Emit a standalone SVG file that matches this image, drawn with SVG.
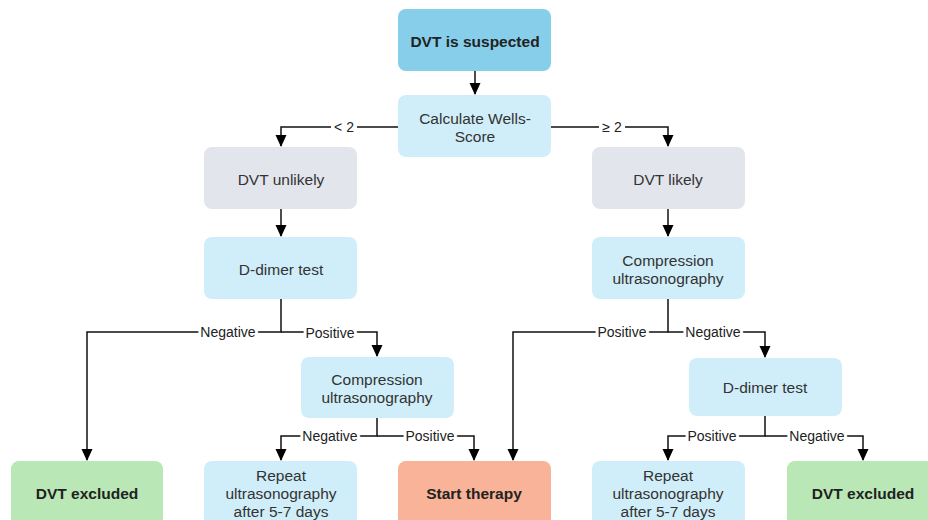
<svg xmlns="http://www.w3.org/2000/svg" width="928" height="520" viewBox="0 0 928 520">
<defs>
<marker id="ah" markerWidth="12" markerHeight="12" refX="11" refY="6" orient="auto" markerUnits="userSpaceOnUse" viewBox="0 0 12 12">
<path d="M0,0.5 L12,6 L0,11.5 Z" fill="#000"/>
</marker>
</defs>
<style>
.n{stroke:none}
.blue{fill:#87CEEB}
.lb{fill:#D0EEF9}
.gr{fill:#E3E5EC}
.gn{fill:#B9E8B6}
.or{fill:#F8B398}
.t{font-family:"Liberation Sans",Arial,sans-serif;font-size:15.5px;fill:#333;text-anchor:middle}
.b{font-weight:bold;font-size:15.5px;fill:#222}
.c{fill:none;stroke:#111;stroke-width:1.5}
.l{font-family:"Liberation Sans",Arial,sans-serif;font-size:14px;fill:#222;text-anchor:middle;stroke:#fff;stroke-width:6px;paint-order:stroke;stroke-linejoin:round}
.bg{fill:#fff}
</style>
<rect width="928" height="520" fill="#fff"/>
<g id="connectors">
<path class="c" d="M475,71 V94" marker-end="url(#ah)"/>
<path class="c" d="M398,127 H281 V146" marker-end="url(#ah)"/>
<path class="c" d="M551,127 H668 V146" marker-end="url(#ah)"/>
<path class="c" d="M281,209 V236" marker-end="url(#ah)"/>
<path class="c" d="M668,209 V236" marker-end="url(#ah)"/>
<path class="c" d="M281,299 V332 H87 V460" marker-end="url(#ah)"/>
<path class="c" d="M281,332 H377 V356" marker-end="url(#ah)"/>
<path class="c" d="M377,418 V436 H281 V460" marker-end="url(#ah)"/>
<path class="c" d="M377,436 H474 V460" marker-end="url(#ah)"/>
<path class="c" d="M668,299 V332 H513 V460" marker-end="url(#ah)"/>
<path class="c" d="M668,332 H765 V357" marker-end="url(#ah)"/>
<path class="c" d="M765,416 V436 H668 V460" marker-end="url(#ah)"/>
<path class="c" d="M765,436 H863 V460" marker-end="url(#ah)"/>
<rect class="bg" x="331" y="120" width="26" height="14"/>
<rect class="bg" x="599" y="120" width="26" height="14"/>
<text class="l" x="344" y="132">&lt; 2</text>
<text class="l" x="612" y="132">≥ 2</text>
<text class="l" x="228" y="337">Negative</text>
<text class="l" x="330" y="338">Positive</text>
<text class="l" x="330" y="441">Negative</text>
<text class="l" x="430" y="441">Positive</text>
<text class="l" x="622" y="337">Positive</text>
<text class="l" x="713" y="337">Negative</text>
<text class="l" x="712" y="441">Positive</text>
<text class="l" x="817" y="441">Negative</text>
</g>
<g id="n1"><rect class="n blue" x="398" y="9" width="153" height="62" rx="8"/><text class="t b" x="475" y="47">DVT is suspected</text></g>
<g id="n2"><rect class="n lb" x="398" y="95" width="153" height="62" rx="8"/><text class="t" x="475" y="124">Calculate Wells-</text><text class="t" x="475" y="142">Score</text></g>
<g id="n3"><rect class="n gr" x="204" y="147" width="153" height="62" rx="8"/><text class="t" x="281" y="185">DVT unlikely</text></g>
<g id="n4"><rect class="n gr" x="592" y="147" width="153" height="62" rx="8"/><text class="t" x="668" y="185">DVT likely</text></g>
<g id="n5"><rect class="n lb" x="204" y="237" width="153" height="62" rx="8"/><text class="t" x="281" y="275">D-dimer test</text></g>
<g id="n6"><rect class="n lb" x="592" y="237" width="153" height="62" rx="8"/><text class="t" x="668" y="266">Compression</text><text class="t" x="668" y="284">ultrasonography</text></g>
<g id="n7"><rect class="n lb" x="301" y="357" width="153" height="61" rx="8"/><text class="t" x="377" y="385">Compression</text><text class="t" x="377" y="403">ultrasonography</text></g>
<g id="n8"><rect class="n lb" x="689" y="358" width="153" height="58" rx="8"/><text class="t" x="765" y="393">D-dimer test</text></g>
<g id="n9"><rect class="n gn" x="11" y="461" width="152" height="66" rx="8"/><text class="t b" x="87" y="499">DVT excluded</text></g>
<g id="n10"><rect class="n lb" x="204" y="461" width="153" height="66" rx="8"/><text class="t" x="281" y="481">Repeat</text><text class="t" x="281" y="499">ultrasonography</text><text class="t" x="281" y="517">after 5-7 days</text></g>
<g id="n11"><rect class="n or" x="398" y="461" width="153" height="66" rx="8"/><text class="t b" x="474" y="499">Start therapy</text></g>
<g id="n12"><rect class="n lb" x="592" y="461" width="153" height="66" rx="8"/><text class="t" x="668" y="481">Repeat</text><text class="t" x="668" y="499">ultrasonography</text><text class="t" x="668" y="517">after 5-7 days</text></g>
<g id="n13"><rect class="n gn" x="787" y="461" width="152" height="66" rx="8"/><text class="t b" x="863" y="499">DVT excluded</text></g>
</svg>
